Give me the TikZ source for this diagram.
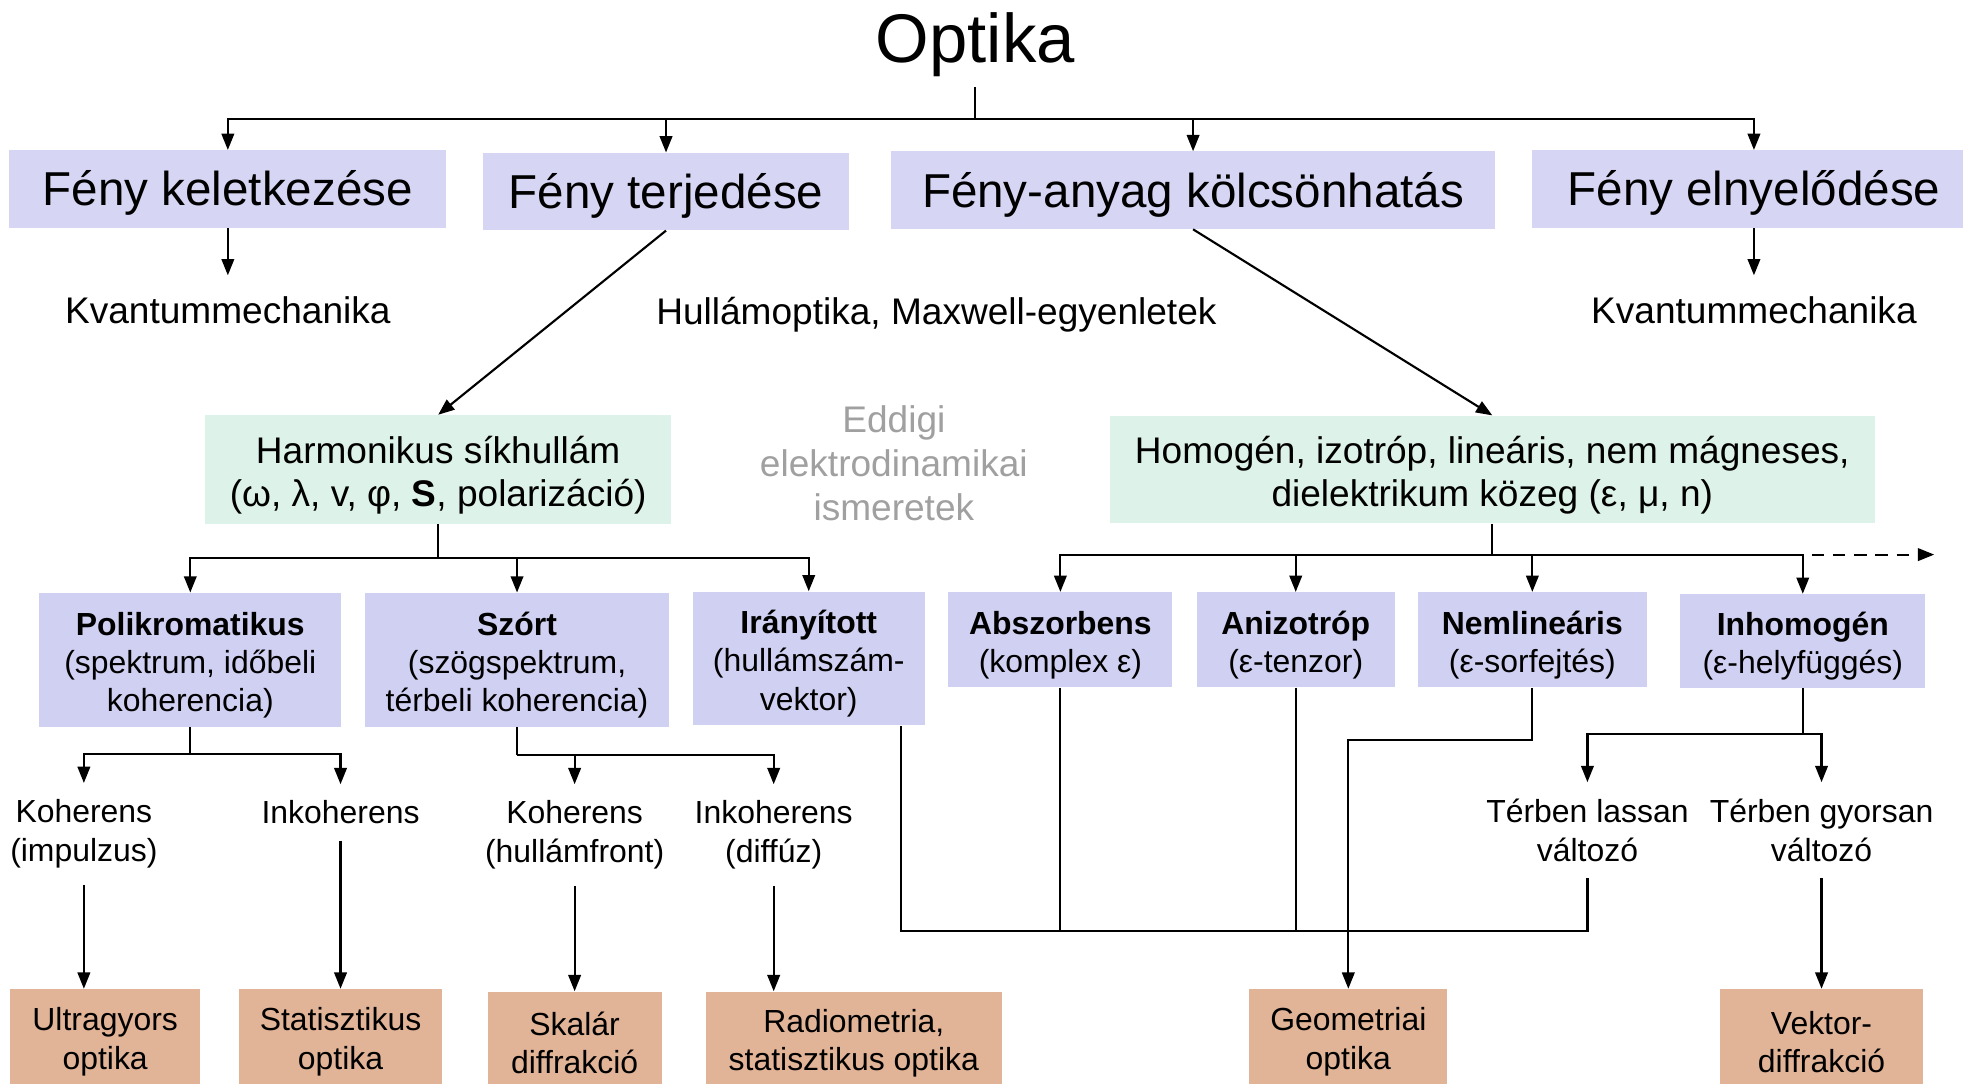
\documentclass[tikz,border=0pt]{standalone}
\usepackage{fontspec}
\setmainfont{Liberation Sans}
\usetikzlibrary{arrows.meta}
\definecolor{lilac}{RGB}{214,214,244}
\definecolor{lilacdark}{RGB}{208,208,242}
\definecolor{mint}{RGB}{221,242,232}
\definecolor{salmon}{RGB}{225,179,151}
\definecolor{greytext}{RGB}{160,160,160}
\newcommand\boxstrut{\rule{0pt}{1.05em}}
\tikzset{
        conn/.style={color = black, line width=1.7pt},
        arr/.style={conn, -{Triangle[length=13pt,width=10pt]}},
        titlefont/.style={font=\fontsize{55}{60}\selectfont},
        bigbox/.style={fill=lilac, align=center, inner sep=0pt, font=\fontsize{38}{44}\selectfont, execute at begin node={\rule{0pt}{0.92em}}},
        greenbox/.style={fill=mint, align=center, inner sep=0pt, font=\fontsize{29.6}{35}\selectfont},
        smallbox/.style={fill=lilacdark, align=center, inner sep=0pt, font=\fontsize{25.5}{30.5}\selectfont},
        endbox/.style={fill=salmon, align=center, inner sep=0pt, font=\fontsize{25.5}{30.5}\selectfont},
        midtext/.style={align=center, inner xsep=0pt, inner ysep=17pt, font=\fontsize{29.6}{35.5}\selectfont},
        smalltext/.style={align=center, inner xsep=0pt, inner ysep=13pt, font=\fontsize{25.5}{31}\selectfont}
}
\begin{document}
\begin{tikzpicture}[x=1pt, y=-1pt, every node/.style={scale=1}]
        \useasboundingbox (0,0) rectangle (1568,866);
        \node[titlefont, inner sep=8pt] (opt) at (779,36) {Optika};
        \node[bigbox, minimum width=349pt, minimum height=62pt] (fk) at (182,151) {Fény keletkezése};
        \node[bigbox, minimum width=293pt, minimum height=62pt] (ft) at (532,153) {Fény terjedése};
        \node[bigbox, minimum width=483pt, minimum height=62pt] (fa) at (953,152) {Fény-anyag kölcsönhatás};
        \node[bigbox, minimum width=354pt, minimum height=62pt] (fe) at (1401,151) {Fény elnyelődése};
        \node[midtext] (kv1) at (182,248) {Kvantummechanika};
        \node[midtext] (hull) at (748,251) {Hullámoptika, Maxwell-egyenletek};
        \node[midtext] (kv2) at (1401,248) {Kvantummechanika};
        \node[greenbox, minimum width=372pt, minimum height=87pt] (harm) at (350,375) {\boxstrut Harmonikus síkhullám\\(ω, λ, v, φ, \textbf{S}, polarizáció)};
        \node[midtext, text=greytext] (eddigi) at (714,370) {Eddigi\\elektrodinamikai\\ismeretek};
        \node[greenbox, minimum width=611pt, minimum height=86pt] (hom) at (1192,375) {\boxstrut Homogén, izotróp, lineáris, nem mágneses,\\dielektrikum közeg (ε, μ, n)};
        \node[smallbox, minimum width=241pt, minimum height=107pt] (poli) at (152,527) {\boxstrut\textbf{Polikromatikus}\\(spektrum, időbeli\\koherencia)};
        \node[smallbox, minimum width=243pt, minimum height=107pt] (szort) at (413,527) {\boxstrut\textbf{Szórt}\\(szögspektrum,\\térbeli koherencia)};
        \node[smallbox, minimum width=185pt, minimum height=107pt] (irany) at (646,526) {\boxstrut\textbf{Irányított}\\(hullámszám-\\vektor)};
        \node[smallbox, minimum width=179pt, minimum height=76pt] (absz) at (847,511) {\boxstrut\textbf{Abszorbens}\\(komplex ε)};
        \node[smallbox, minimum width=158pt, minimum height=76pt] (aniz) at (1035,511) {\boxstrut\textbf{Anizotróp}\\(ε-tenzor)};
        \node[smallbox, minimum width=183pt, minimum height=76pt] (nemlin) at (1224,511) {\boxstrut\textbf{Nemlineáris}\\(ε-sorfejtés)};
        \node[smallbox, minimum width=196pt, minimum height=75pt] (inhom) at (1440,512) {\boxstrut\textbf{Inhomogén}\\(ε-helyfüggés)};
        \node[smalltext] (koh1) at (67,666) {Koherens\\(impulzus)};
        \node[smalltext] (inkoh1) at (272,649) {Inkoherens};
        \node[smalltext] (koh2) at (459,667) {Koherens\\(hullámfront)};
        \node[smalltext] (inkoh2) at (618,667) {Inkoherens\\(diffúz)};
        \node[smalltext] (lassan) at (1268,663) {Térben lassan\\változó};
        \node[smalltext] (gyorsan) at (1455,663) {Térben gyorsan\\változó};
        \node[endbox, minimum width=152pt, minimum height=76pt] (ultra) at (84,828) {\boxstrut Ultragyors\\optika};
        \node[endbox, minimum width=162pt, minimum height=76pt] (stat) at (272,828) {\boxstrut Statisztikus\\optika};
        \node[endbox, minimum width=139pt, minimum height=74pt] (skal) at (459,829) {\boxstrut Skalár\\diffrakció};
        \node[endbox, minimum width=236pt, minimum height=74pt] (radio) at (682,829) {\boxstrut Radiometria,\\statisztikus optika};
        \node[endbox, minimum width=158pt, minimum height=76pt] (geo) at (1077,828) {\boxstrut Geometriai\\optika};
        \node[endbox, minimum width=162pt, minimum height=76pt] (vektor) at (1455,828) {\boxstrut Vektor-\\diffrakció};
        \coordinate (top) at (779,95);
        \coordinate (harmbus) at (350,446);
        \coordinate (hombus) at (1192,443);
        \coordinate (tovabb) at (1545,443);
        \coordinate (polibus) at (152,602);
        \coordinate (szortbus) at (413,603);
        \coordinate (inhombus) at (1440,586);
        \coordinate (geobus) at (1268,744);
        \draw[conn] (opt.south) -- (top);
        \draw[arr] (top) -| (fk.north);
        \draw[arr] (top) -| (ft.north);
        \draw[arr] (top) -| (fa.north);
        \draw[arr] (top) -| (fe.north);
        \draw[arr] (fk.south) -- (kv1.north);
        \draw[arr] (fe.south) -- (kv2.north);
        \draw[arr] (ft.south) -- (harm.north);
        \draw[arr] (fa.south) -- (hom.north);
        \draw[conn] (harm.south) -- (harmbus);
        \draw[arr] (harmbus) -| (poli.north);
        \draw[arr] (harmbus) -| (szort.north);
        \draw[arr] (harmbus) -| (irany.north);
        \draw[arr, dash pattern=on 10pt off 7pt] (hombus) -- (tovabb);
        \draw[conn] (hom.south) -- (hombus);
        \draw[arr] (hombus) -| (absz.north);
        \draw[arr] (hombus) -| (aniz.north);
        \draw[arr] (hombus) -| (nemlin.north);
        \draw[arr] (hombus) -| (inhom.north);
        \draw[conn] (poli.south) -- (polibus);
        \draw[arr] (polibus) -| (koh1.north);
        \draw[arr] (polibus) -| (inkoh1.north);
        \draw[conn] (szort.south) -- (szortbus);
        \draw[arr] (szortbus) -| (koh2.north);
        \draw[arr] (szortbus) -| (inkoh2.north);
        \draw[arr] (koh1.south) -- (koh1.south |- ultra.north);
        \draw[arr] (inkoh1.south) -- (stat.north);
        \draw[arr] (koh2.south) -- (skal.north);
        \draw[arr] (inkoh2.south) -- (inkoh2.south |- radio.north);
        \draw[conn] (inhom.south) -- (inhombus);
        \draw[arr] (inhombus) -| (lassan.north);
        \draw[arr] (inhombus) -| (gyorsan.north);
        \draw[arr] (gyorsan.south) -- (vektor.north);
        \draw[conn] ([xshift=74pt]irany.south) |- (geobus) -- (lassan.south);
        \draw[conn] (absz.south) -- (absz.south |- geobus);
        \draw[conn] (aniz.south) -- (aniz.south |- geobus);
        \draw[arr] (nemlin.south) -- ++(0,42) -| (geo.north);
\end{tikzpicture}
\end{document}
